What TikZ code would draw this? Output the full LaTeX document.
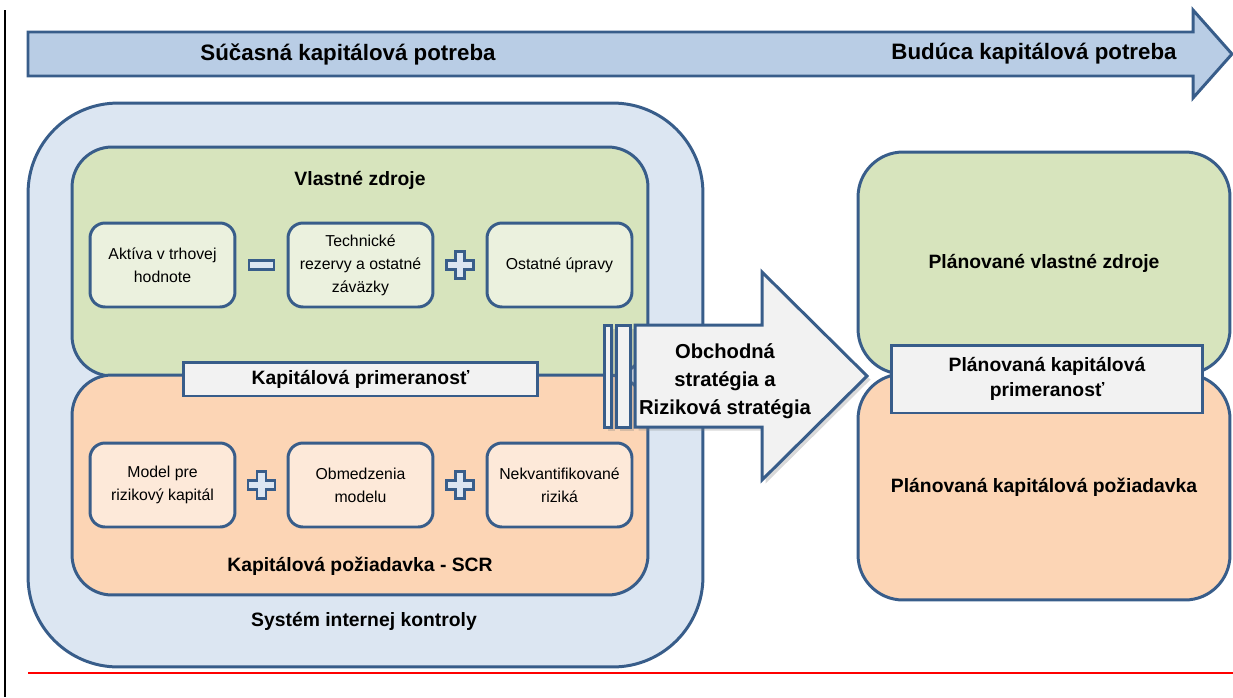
\documentclass[tikz,border=0pt]{standalone}
\usepackage{fontspec}
\setmainfont{Liberation Sans}
\usetikzlibrary{calc}
\usetikzlibrary{shadows}

\definecolor{linka}{RGB}{56,93,138}
\definecolor{pasmo}{RGB}{185,205,229}
\definecolor{modry}{RGB}{220,230,242}
\definecolor{zelena}{RGB}{215,228,189}
\definecolor{zelenasvetla}{RGB}{235,241,222}
\definecolor{oranzova}{RGB}{252,213,181}
\definecolor{oranzovasvetla}{RGB}{253,233,217}
\definecolor{sedy}{RGB}{242,242,242}

\begin{document}
\begin{tikzpicture}[x=0.02cm, y=-0.02cm, line width=1.7pt,
    ramec/.style={draw=linka, rectangle},
    nadpis/.style={font=\bfseries\fontsize{11}{14}\selectfont, align=center},
    polozka/.style={ramec, rounded corners=0.3cm, minimum width=2.9cm, minimum height=1.68cm, align=center, font=\fontsize{9}{13}\selectfont},
    pruh/.style={ramec, fill=sedy, nadpis},
    znak/.style={draw=linka, fill=modry, line width=1.4pt},
    tien/.style={drop shadow={shadow xshift=2pt, shadow yshift=-2pt, opacity=.3}},
    plusko/.pic={\draw[znak] (-4.5,-13.5) -- (4.5,-13.5) -- (4.5,-4.5) -- (13.5,-4.5) -- (13.5,4.5) -- (4.5,4.5) -- (4.5,13.5) -- (-4.5,13.5) -- (-4.5,4.5) -- (-13.5,4.5) -- (-13.5,-4.5) -- (-4.5,-4.5) -- cycle;},
    minusko/.pic={\draw[znak] (-12.5,-4.5) rectangle (12.5,4.5);}]
    \useasboundingbox (0,0) rectangle (1233,697);

    % Okraj a horna sipka
    \draw[line width=1.1pt] (5,10) -- (5,697);
    \draw[red, line width=1.2pt] (28,673) -- (1233,673);
    \draw[ramec, fill=pasmo] (28,32) -- (1193,32) -- (1193,10) -- (1232,54) -- (1193,98) -- (1193,76) -- (28,76) -- cycle;
    \node (sucasna) at (348,54) [font=\bfseries\fontsize{12.7}{15}\selectfont] {Súčasná kapitálová potreba};
    \node (buduca) at (1034,54) [font=\bfseries\fontsize{12.7}{15}\selectfont] {Budúca kapitálová potreba};

    % Sucasny stav
    \node (system) at (365.5,385) [ramec, fill=modry, rounded corners=1.8cm, minimum width=13.5cm, minimum height=11.28cm] {};
    \node (systemtext) at (364,621) [nadpis] {Systém internej kontroly};
    \node (zdroje) at (360,261.5) [ramec, fill=zelena, rounded corners=0.8cm, minimum width=11.52cm, minimum height=4.58cm] {};
    \node (poziadavka) at (360,485) [ramec, fill=oranzova, rounded corners=0.8cm, minimum width=11.52cm, minimum height=4.4cm] {};
    \node (zdrojetext) at (360,180) [nadpis] {Vlastné zdroje};
    \node (poziadavkatext) at (360,566) [nadpis] {Kapitálová požiadavka - SCR};

    \node (aktiva) at (162.5,265) [polozka, fill=zelenasvetla] {Aktíva v trhovej\\hodnote};
    \node (rezervy) at (360.5,265) [polozka, fill=zelenasvetla] {Technické\\rezervy a ostatné\\záväzky};
    \node (upravy) at (559.5,265) [polozka, fill=zelenasvetla] {Ostatné úpravy};
    \node (model) at (162.5,485) [polozka, fill=oranzovasvetla] {Model pre\\rizikový kapitál};
    \node (obmedzenia) at (360.5,485) [polozka, fill=oranzovasvetla] {Obmedzenia\\modelu};
    \node (nekvant) at (559.5,485) [polozka, fill=oranzovasvetla] {Nekvantifikované\\riziká};

    \pic at ($(aktiva.east)!.5!(rezervy.west)$) {minusko};
    \pic at ($(rezervy.east)!.5!(upravy.west)$) {plusko};
    \pic at ($(model.east)!.5!(obmedzenia.west)$) {plusko};
    \pic at ($(obmedzenia.east)!.5!(nekvant.west)$) {plusko};

    \node (primeranost) at (360.5,379) [pruh, minimum width=7.1cm, minimum height=0.68cm] {Kapitálová primeranosť};

    % Planovany stav
    \node (pzdroje) at (1044,263) [ramec, fill=zelena, rounded corners=0.9cm, minimum width=7.44cm, minimum height=4.44cm, nadpis] {Plánované vlastné zdroje};
    \node (ppoziadavka) at (1044,487) [ramec, fill=oranzova, rounded corners=0.9cm, minimum width=7.44cm, minimum height=4.52cm, nadpis] {Plánovaná kapitálová požiadavka};
    \node (pprimeranost) at (1047,379) [pruh, minimum width=6.24cm, minimum height=1.36cm] {Plánovaná kapitálová\\primeranosť};

    % Strategia
    \draw[ramec, fill=sedy, tien] (604,325) rectangle (611,427);
    \draw[ramec, fill=sedy, tien] (616,325) rectangle (630,427);
    \draw[ramec, fill=sedy, tien] (635,325) -- (762,325) -- (762,272) -- (867,376) -- (762,480) -- (762,427) -- (635,427) -- cycle;
    \node (strategia) at (725,381) [nadpis, font=\bfseries\fontsize{11.5}{16}\selectfont] {Obchodná\\stratégia a\\Riziková stratégia};
\end{tikzpicture}
\end{document}
